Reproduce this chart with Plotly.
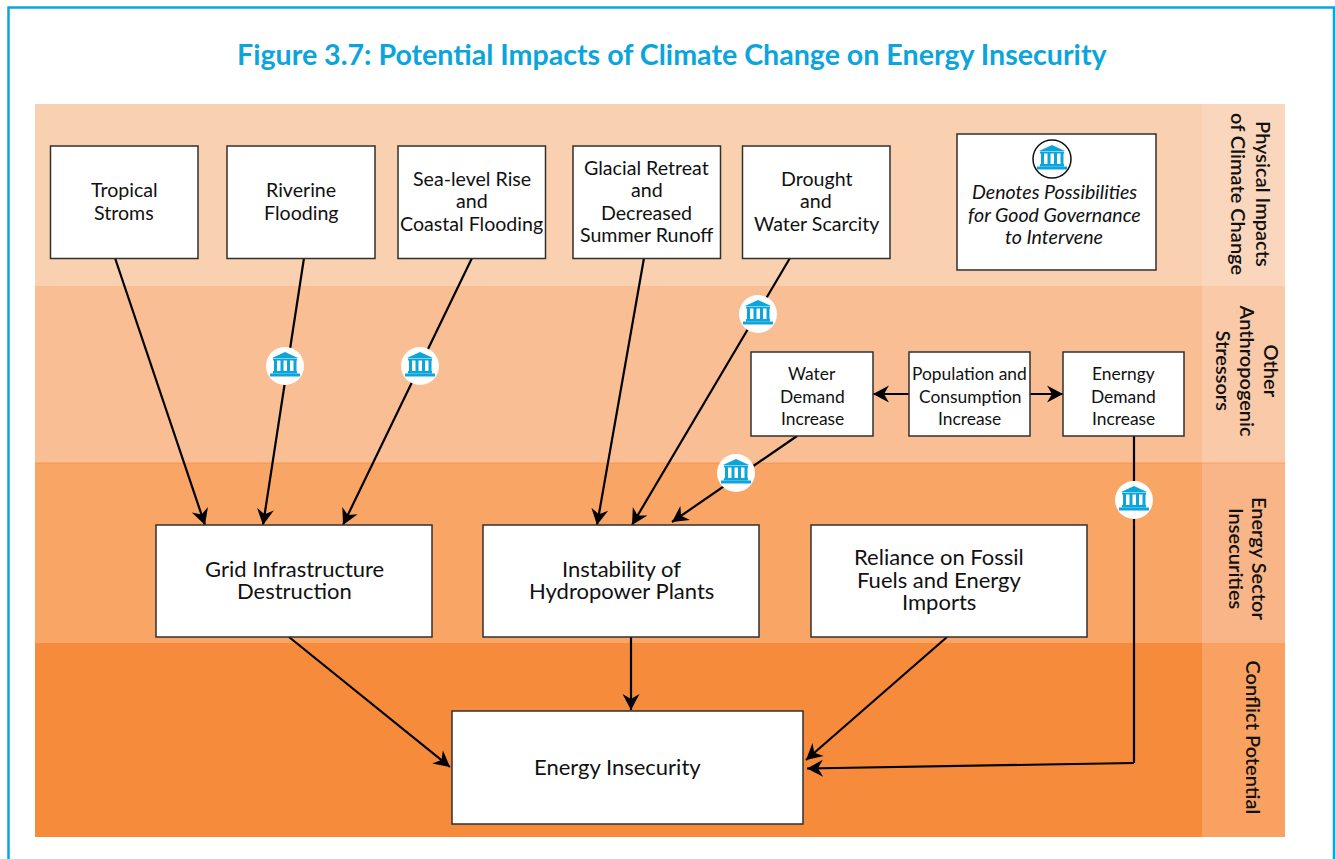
import math
import plotly.graph_objects as go

TITLE = "Figure 3.7: Potential Impacts of Climate Change on Energy Insecurity"

band_labels = [
    ["Physical Impacts", "of Climate Change"],
    ["Other", "Anthropogenic", "Stressors"],
    ["Energy Sector", "Insecurities"],
    ["Conflict Potential"],
]
small_box_labels = [
    ["Tropical", "Stroms"],
    ["Riverine", "Flooding"],
    ["Sea-level Rise", "and", "Coastal Flooding"],
    ["Glacial Retreat", "and", "Decreased", "Summer Runoff"],
    ["Drought", "and", "Water Scarcity"],
]
stress_box_labels = [
    ["Water", "Demand", "Increase"],
    ["Population and", "Consumption", "Increase"],
    ["Enerngy", "Demand", "Increase"],
]
large_box_labels = [
    ["Grid Infrastructure", "Destruction"],
    ["Instability of", "Hydropower Plants"],
    ["Reliance on Fossil", "Fuels and Energy", "Imports"],
    ["Energy Insecurity"],
]
legend_labels = ["Denotes Possibilities", "for Good Governance", "to Intervene"]

# --- layout geometry (pixel-like axis units) ---
BLUE = "#0BA5DC"
INK = "#111111"
band_y = [104, 286, 463, 643, 837]
band_fill = ["#F9D0B0", "#F9BE94", "#F8A566", "#F68B3C"]
side_fill = ["#FAD7BC", "#FAC9A8", "#F9B588", "#F8A160"]

small_rects = [(50.5, 198), (227, 375), (398, 545.5), (573, 720.5), (742.5, 890)]
stress_rects = [(751, 873), (909, 1030), (1063, 1184)]
large_rects = [(156, 432, 525, 637), (483, 759, 525, 637), (811, 1087, 525, 637), (452, 803, 711, 824)]
large_text_xy = [(294, 579.5), (621, 579.5), (939, 579.3), (617, 766.2)]
arrows = [
    [(115, 258), (205, 525)],
    [(304, 258), (263, 525)],
    [(472, 258), (343, 525)],
    [(644, 258), (597, 525)],
    [(790, 258), (632, 525)],
    [(797, 436), (672, 522)],
    [(909, 394), (873, 394)],
    [(1030, 394), (1063, 394)],
    [(1134, 436), (1134, 763), (807, 768.5)],
    [(289, 637), (450, 767)],
    [(631, 637), (631, 710)],
    [(947, 637), (806, 760)],
]
icons = [(285, 366), (420, 366), (758, 314), (736, 473), (1134, 500)]

shapes, notes = [], []


def rect(x0, x1, y0, y1, fill, line=None, width=0):
    shapes.append(dict(type="rect", xref="x", yref="y", x0=x0, x1=x1, y0=y0, y1=y1,
                       fillcolor=fill, line=dict(color=line or fill, width=width), layer="above"))


def path(d, fill, line=None, width=0):
    shapes.append(dict(type="path", xref="x", yref="y", path=d, fillcolor=fill,
                       line=dict(color=line or "rgba(0,0,0,0)", width=width), layer="above"))


def text(x, y, s, size, color=INK, angle=0, italic=False, weight=400, family="Lato"):
    notes.append(dict(x=x, y=y, xref="x", yref="y", text=s, showarrow=False, textangle=angle,
                      xanchor="center", yanchor="middle",
                      font=dict(family=family, size=size, color=color, weight=weight,
                                style="italic" if italic else "normal")))


def stacked(cx, cy, lines, size, pitch, **kw):
    n = len(lines)
    for i, s in enumerate(lines):
        text(cx, cy + (i - (n - 1) / 2) * pitch, s, size, **kw)


def box(x0, x1, y0, y1):
    rect(x0, x1, y0, y1, "#FFFFFF", "#33302E", 1.5)


def arrow(points):
    for (a, b) in zip(points, points[1:]):
        shapes.append(dict(type="line", xref="x", yref="y", x0=a[0], y0=a[1], x1=b[0], y1=b[1],
                           line=dict(color="#000000", width=2.2), layer="above"))
    (x0, y0), (x1, y1) = points[-2], points[-1]
    L = math.hypot(x1 - x0, y1 - y0)
    ux, uy = (x1 - x0) / L, (y1 - y0) / L
    px, py = -uy, ux
    head, half, notch = 16, 8.5, 11
    tail = (x1 - ux * head + px * half, y1 - uy * head + py * half)
    tail2 = (x1 - ux * head - px * half, y1 - uy * head - py * half)
    mid = (x1 - ux * notch, y1 - uy * notch)
    path(f"M{x1},{y1} L{tail[0]},{tail[1]} L{mid[0]},{mid[1]} L{tail2[0]},{tail2[1]} Z", "#000000")


def icon(cx, cy, outline=None):
    shapes.append(dict(type="circle", xref="x", yref="y", x0=cx - 19, x1=cx + 19, y0=cy - 19, y1=cy + 19,
                       fillcolor="#FFFFFF", line=dict(color=outline or "#FFFFFF", width=1.5 if outline else 0),
                       layer="above"))
    path(f"M{cx},{cy-14} L{cx+13},{cy-8} L{cx-13},{cy-8} Z", BLUE)
    rect(cx - 12, cx + 12, cy - 7.5, cy - 5.5, BLUE)
    for dx in (-11, -4.5, 2, 8.5):
        rect(cx + dx, cx + dx + 3, cy - 6, cy + 6, BLUE)
    rect(cx - 12, cx + 12, cy + 5, cy + 7.5, BLUE)
    rect(cx - 15, cx + 15, cy + 7.5, cy + 10.5, BLUE)


# frame
rect(8.5, 1334, 7.5, 900, "#FFFFFF", BLUE, 2.5)

# bands
for i in range(4):
    rect(35, 1202, band_y[i], band_y[i + 1], band_fill[i])
    rect(1202, 1285, band_y[i], band_y[i + 1], side_fill[i])
rect(35, 1202, 462.5, 464, "#F79B58")
rect(1202, 1285, 462.5, 464, "#F9A870")

# connectors, then boxes and icons over them
for a in arrows:
    arrow(a)
for icx, icy in icons:
    icon(icx, icy)

for (x0, x1), lines in zip(small_rects, small_box_labels):
    box(x0, x1, 146, 258.5)
    stacked((x0 + x1) / 2, 200.8, lines, 19.6, 22.5)
for (x0, x1), lines in zip(stress_rects, stress_box_labels):
    box(x0, x1, 352, 436)
    stacked((x0 + x1) / 2, 396.4, lines, 17.4, 22.5)
for (x0, x1, y0, y1), (tx, ty), lines in zip(large_rects, large_text_xy, large_box_labels):
    box(x0, x1, y0, y1)
    stacked(tx, ty, lines, 22, 22.5)

# legend
box(957, 1156, 134, 270)
icon(1052, 159, outline="#111111")
stacked(1054, 214, legend_labels, 19.6, 22.5, italic=True)

# side labels: rotated 90 deg, first line furthest right
side_cx = [1251.5, 1247.5, 1248.5, 1254]
side_cy = [194, 371, 559, 737.5]
side_pitch = [25, 24, 23, 0]
for i, lines in enumerate(band_labels):
    n = len(lines)
    for j, s in enumerate(lines):
        text(side_cx[i] - (j - (n - 1) / 2) * side_pitch[i], side_cy[i], s, 20, angle=90, weight=600)

text(672, 53.5, TITLE, 28.6, color=BLUE, weight=700)

fig = go.Figure()
fig.update_layout(
    width=1335, height=859, margin=dict(l=0, r=0, t=0, b=0),
    paper_bgcolor="#FFFFFF", plot_bgcolor="#FFFFFF", showlegend=False,
    xaxis=dict(range=[0, 1335], visible=False, fixedrange=True),
    yaxis=dict(range=[859, 0], visible=False, fixedrange=True),
    shapes=shapes, annotations=notes,
)
fig.write_html("out.html", config={"displayModeBar": False},
               post_script="document.body.style.margin='0';document.body.style.overflow='hidden';")
